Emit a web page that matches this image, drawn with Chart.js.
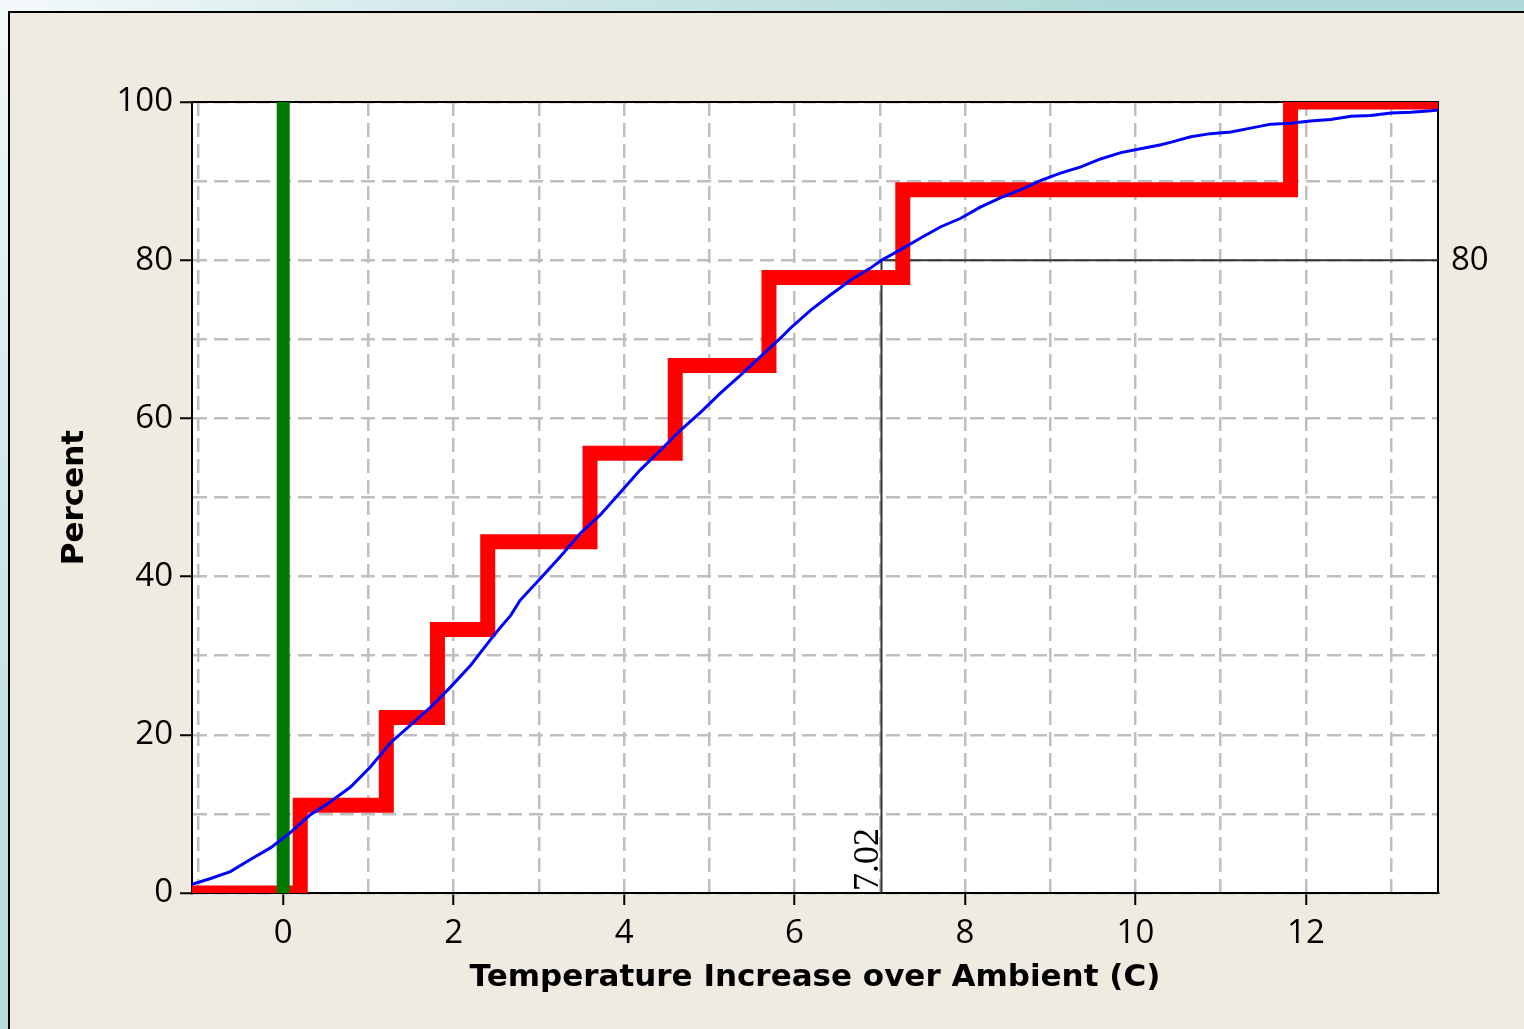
<!DOCTYPE html>
<html>
<head>
<meta charset="utf-8">
<script src="https://cdn.jsdelivr.net/npm/chart.js@4.4.0/dist/chart.umd.min.js"></script>
<style>
  html, body { margin: 0; padding: 0; }
  body {
    width: 1524px; height: 1029px; overflow: hidden; position: relative;
    background: radial-gradient(circle at 0 0, #f4f9fa 0, #cfe7e8 500px, #b2d9d9 1100px);
  }
  #panel {
    position: absolute; left: 8px; top: 11px; right: 0; bottom: 0;
    background: #efebe1;
    border-left: 2px solid #000; border-top: 2px solid #000;
  }
  #chart { position: absolute; left: 0; top: 0; }
</style>
</head>
<body>
<div id="panel"></div>
<canvas id="chart" width="1524" height="1029"></canvas>
<script>
const cdfX = [-1.07, -0.86, -0.62, -0.39, -0.15, 0.08, 0.32, 0.55, 0.79, 1.02, 1.26, 1.49, 1.73, 1.96,
  2.20, 2.43, 2.55, 2.67, 2.78, 3.02, 3.25, 3.49, 3.72, 3.96, 4.19, 4.43, 4.66, 4.90, 5.13, 5.37,
  5.60, 5.84, 5.95, 6.19, 6.42, 6.66, 6.89, 7.02, 7.24, 7.48, 7.71, 7.95, 8.18, 8.42, 8.65, 8.89,
  9.12, 9.36, 9.59, 9.83, 10.06, 10.30, 10.41, 10.65, 10.88, 11.12, 11.35, 11.59, 11.82, 12.05,
  12.29, 12.53, 12.76, 13.00, 13.23, 13.47, 13.55];
const cdfY = [1.1, 1.8, 2.7, 4.2, 5.7, 7.6, 9.9, 11.5, 13.4, 15.9, 19.0, 21.2, 23.5, 26.0,
  28.8, 32.0, 33.6, 35.1, 37.0, 39.8, 42.5, 45.5, 47.8, 50.7, 53.5, 56.0, 58.5, 60.8, 63.2, 65.5,
  67.8, 70.2, 71.4, 73.7, 75.6, 77.5, 79.0, 80.0, 81.3, 82.8, 84.2, 85.3, 86.7, 87.9, 88.9, 90.1,
  91.0, 91.8, 92.8, 93.6, 94.1, 94.6, 94.9, 95.6, 96.0, 96.2, 96.7, 97.2, 97.3, 97.6,
  97.8, 98.2, 98.3, 98.6, 98.7, 98.9, 99.0];

// step function (red): x where each step starts, level after the step
const stepX = [-1.07, 0.2, 1.21, 1.81, 2.4, 3.6, 4.6, 5.7, 7.27, 11.82, 13.55];
const stepY = [0, 11.1, 22.2, 33.3, 44.4, 55.6, 66.7, 77.8, 88.9, 100, 100];

// green marker at zero, black 80th percentile reference
const markX = 0;
const refX = 7.02;
const refY = 80;

const xMin = -1.07, xMax = 13.55;
const xGrid = [-1, 0, 1, 2, 3, 4, 5, 6, 7, 8, 9, 10, 11, 12, 13];
const yGrid = [0, 10, 20, 30, 40, 50, 60, 70, 80, 90, 100];

const pts = (xs, ys) => xs.map((x, i) => ({ x: x, y: ys[i] }));

const plotBg = {
  id: 'plotBg',
  beforeDraw(chart) {
    const { ctx, chartArea: a } = chart;
    ctx.save();
    ctx.fillStyle = '#fff';
    ctx.fillRect(a.left, a.top, a.right - a.left, a.bottom - a.top);
    ctx.restore();
  }
};

const refLabel = {
  id: 'refLabel',
  afterDatasetsDraw(chart) {
    const { ctx, scales: { x, y } } = chart;
    ctx.save();
    ctx.translate(x.getPixelForValue(refX) - 3, y.getPixelForValue(0) - 2);
    ctx.rotate(-Math.PI / 2);
    ctx.font = '36px "Liberation Serif"';
    ctx.fillStyle = '#000';
    ctx.textAlign = 'left';
    ctx.textBaseline = 'alphabetic';
    ctx.fillText(refX.toFixed(2), 0, 0);
    ctx.restore();
  }
};

Chart.defaults.font.family = '"Open Sans"';
Chart.defaults.color = '#000';

const gridColor = '#bfbfbf';

new Chart(document.getElementById('chart'), {
  type: 'scatter',
  data: {
    datasets: [
      {
        label: 'cdf',
        data: pts(cdfX, cdfY),
        showLine: true,
        borderColor: '#0000ff',
        borderWidth: 3,
        pointRadius: 0,
        tension: 0
      },
      {
        label: 'zero',
        data: pts([markX, markX], [0, 100]),
        showLine: true,
        borderColor: '#007a00',
        borderWidth: 13,
        borderCapStyle: 'butt',
        pointRadius: 0
      },
      {
        label: 'steps',
        data: pts(stepX, stepY),
        showLine: true,
        stepped: 'before',
        borderColor: '#ff0000',
        borderWidth: 15,
        borderJoinStyle: 'miter',
        borderCapStyle: 'butt',
        pointRadius: 0
      },
      {
        label: 'ref',
        data: pts([refX, refX, xMax], [0, refY, refY]),
        showLine: true,
        borderColor: '#333333',
        borderWidth: 2,
        pointRadius: 0
      }
    ]
  },
  options: {
    responsive: false,
    animation: false,
    devicePixelRatio: 1,
    layout: { padding: { top: 102, left: 0, right: 0, bottom: 0 } },
    plugins: { legend: { display: false }, tooltip: { enabled: false } },
    scales: {
      x: {
        type: 'linear',
        position: 'bottom',
        min: xMin,
        max: xMax,
        afterBuildTicks: s => { s.ticks = xGrid.map(v => ({ value: v })); },
        afterFit: s => { s.height = 136; },
        ticks: {
          autoSkip: false,
          maxRotation: 0,
          padding: 9,
          font: { size: 33 },
          callback: v => (v % 2 === 0 ? String(v) : '')
        },
        grid: {
          color: gridColor,
          lineWidth: 2.5,
          tickLength: 12,
          tickWidth: 2,
          tickBorderDash: [],
          tickColor: c => (c.tick && c.tick.value % 2 === 0 ? '#000' : 'rgba(0,0,0,0)')
        },
        border: { display: true, color: '#000', width: 2, dash: [14, 7] },
        title: {
          display: true,
          text: 'Temperature Increase over Ambient (C)',
          font: { family: '"DejaVu Sans"', size: 31, weight: 'bold' },
          padding: { top: 0, bottom: 32 }
        }
      },
      y: {
        type: 'linear',
        position: 'left',
        min: 0,
        max: 100,
        afterBuildTicks: s => { s.ticks = yGrid.map(v => ({ value: v })); },
        afterFit: s => { s.width = 192; },
        ticks: {
          autoSkip: false,
          padding: 7,
          font: { size: 33 },
          callback: v => (v % 20 === 0 ? String(v) : '')
        },
        grid: {
          color: gridColor,
          lineWidth: 2.5,
          tickLength: 12,
          tickWidth: 2,
          tickBorderDash: [],
          tickColor: c => (c.tick && c.tick.value % 20 === 0 ? '#000' : 'rgba(0,0,0,0)')
        },
        border: { display: true, color: '#000', width: 2, dash: [14, 7] },
        title: {
          display: true,
          text: 'Percent',
          font: { family: '"DejaVu Sans"', size: 31, weight: 'bold' },
          padding: { top: 56, bottom: 0 }
        }
      },
      x2: {
        type: 'linear',
        position: 'top',
        min: xMin,
        max: xMax,
        afterFit: s => { s.height = 0; },
        ticks: { display: false },
        grid: { display: false, drawTicks: false },
        border: { display: true, color: '#000', width: 2 }
      },
      y2: {
        type: 'linear',
        position: 'right',
        min: 0,
        max: 100,
        afterBuildTicks: s => { s.ticks = [{ value: refY }]; },
        afterFit: s => { s.width = 86; },
        ticks: { padding: 13, font: { size: 33 } },
        grid: { display: false, drawTicks: false },
        border: { display: true, color: '#000', width: 2 }
      }
    }
  },
  plugins: [plotBg, refLabel]
});
</script>
</body>
</html>
